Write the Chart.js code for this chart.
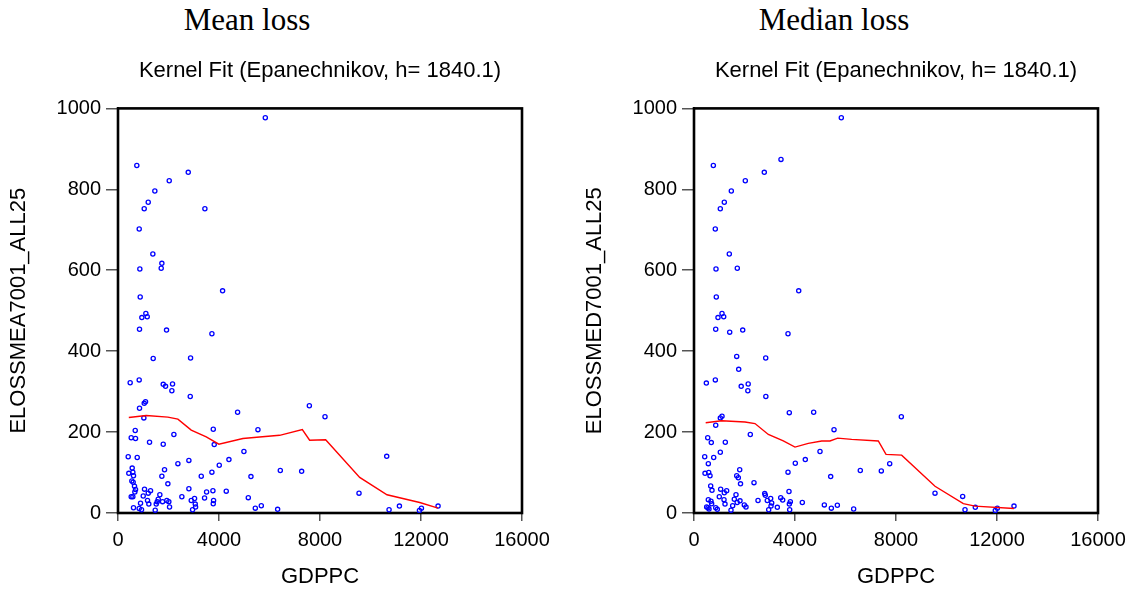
<!DOCTYPE html>
<html>
<head>
<meta charset="utf-8">
<script src="https://cdn.jsdelivr.net/npm/chart.js@4.4.0/dist/chart.umd.min.js"></script>
<style>
  html, body { margin: 0; padding: 0; background: #ffffff; }
  #wrap { position: relative; width: 1137px; height: 594px; overflow: hidden; background: #ffffff; }
  canvas { position: absolute; top: 0; }
  .ttl { position: absolute; top: 4px; width: 300px; text-align: center; font-family: "Liberation Serif", "Times New Roman", serif; font-size: 31px; line-height: 1; color: #000; white-space: nowrap; }
</style>
</head>
<body>
<div id="wrap">
  <div class="ttl" style="left:97px">Mean loss</div>
  <div class="ttl" style="left:684px">Median loss</div>
  <canvas id="c1" width="560" height="594" style="left:0px"></canvas>
  <canvas id="c2" width="560" height="594" style="left:576px"></canvas>
</div>
<script>
// ---- data ----
const xTicks = [0, 4000, 8000, 12000, 16000];
const yTicks = [0, 200, 400, 600, 800, 1000];

// Mean loss panel: scatter points
const meanGdppc = [5834,745,2782,2029,1459,1197,1038,3441,840,1380,1737,1711,865,4142,879,
  1103,944,1157,852,1922,3719,1394,2874,482,839,1791,1883,2160,2133,2861,1038,1090,852,1024,4736,7578,
  682,523,694,3773,5542,2213,1249,1791,3811,404,761,4987,4393,4010,2372,2807,562,428,588,614,1843,1737,
  1975,548,601,654,694,667,3297,3719,5265,6428,7273,2807,1050,1288,1197,999,523,588,1657,1593,1169,892,
  1221,1554,1764,1934,2013,1514,2041,614,839,931,1474,2529,2901,3032,3059,3072,2953,3428,3508,3759,3785,
  3772,4287,5160,5438,5675,6322,
  8198,10642,9545,10735,11145,11938,12017,12676];
const meanLoss = [977,859,842,821,796,768,752,752,702,640,617,605,603,549,534,
  493,483,485,454,452,443,382,383,322,329,318,313,319,302,288,271,275,259,235,249,265,
  204,186,184,207,206,194,175,170,169,139,137,152,132,118,122,130,111,98,101,92,107,91,
  72,79,76,66,58,52,91,101,90,105,103,60,59,55,49,42,40,40,45,34,31,24,
  22,28,28,31,28,22,15,13,11,8,7,40,31,36,22,15,8,37,52,55,31,
  23,54,38,12,18,9,
  238,140,49,8,17,6,12,17];
// Mean loss panel: kernel fit curve
const meanFitX = [428,1117,1975,2372,2900,3495,3995,4947,5608,6401,7300,7590,8224,9572,10654,11950,12676];
const meanFitY = [236,241,237,232,205,188,170,184,188,192,206,180,181,88,45,26,12];

// Median loss panel: scatter points
const medGdppc = [5834,766,3445,2784,2032,1478,1200,1042,843,1398,871,1715,4147,883,
  1109,950,1176,860,1929,1414,3723,1691,2840,1770,489,845,1869,2146,2132,2845,3774,4739,5545,1042,1109,
  860,543,685,1240,2230,1042,424,780,567,4990,4408,4012,2376,3723,1810,1691,1755,1842,436,582,634,5413,
  6586,7418,7750,661,713,1055,1293,1200,1002,1188,1663,1596,1228,567,673,699,501,594,554,860,923,1465,
  1531,1709,1822,1992,2059,2535,2800,2824,2903,3036,3077,3050,2958,3300,3434,3512,3762,3815,3776,3789,
  4290,5162,5439,5677,6323,
  8211,9545,10640,10733,11141,11933,12012,12673];
const medLoss = [977,859,874,842,821,796,768,752,702,640,603,605,549,534,
  493,483,485,454,452,447,443,387,383,355,321,329,313,319,302,288,248,249,206,235,239,
  217,186,174,175,194,150,139,137,122,152,132,123,75,101,107,92,87,72,98,100,92,90,
  105,104,122,67,56,59,55,50,40,33,45,34,22,33,29,23,15,10,13,13,9,7,
  18,26,30,20,15,31,48,44,31,36,25,17,8,14,38,32,53,28,22,8,
  26,20,12,19,10,
  238,49,41,8,14,6,12,17];
// Median loss panel: kernel fit curve
const medFitX = [463,1097,2020,2416,2944,3537,4000,4527,5057,5386,5691,6245,7299,7604,8224,9545,10666,11129,12673];
const medFitY = [223,228,225,221,194,178,163,172,178,178,185,182,178,145,143,66,23,17,11];

const subtitleText = 'Kernel Fit (Epanechnikov, h= 1840.1)';
const xTitle = 'GDPPC';
const yTitles = ['ELOSSMEA7001_ALL25', 'ELOSSMED7001_ALL25'];

// ---- chart construction ----
const toPts = (xs, ys) => xs.map((x, i) => ({x: x, y: ys[i]}));

const framePlugin = {
  id: 'frame',
  beforeDatasetsDraw(chart) {
    const {ctx, chartArea: {left, top, right, bottom}} = chart;
    ctx.save();
    ctx.strokeStyle = '#000';
    ctx.lineWidth = 2.6;
    ctx.strokeRect(left, top, right - left, bottom - top);
    ctx.restore();
  }
};

function makeChart(id, gx, gy, fx, fy, yTitle) {
  return new Chart(document.getElementById(id), {
    type: 'scatter',
    data: {
      datasets: [
        {
          label: 'points',
          data: toPts(gx, gy),
          showLine: false,
          pointRadius: 2.1,
          pointBorderWidth: 1.3,
          pointBorderColor: '#0000ff',
          pointBackgroundColor: 'rgba(255,255,255,0)',
          pointHoverRadius: 2.1,
          order: 2
        },
        {
          label: 'kernel fit',
          data: toPts(fx, fy),
          showLine: true,
          borderColor: '#ff0000',
          borderWidth: 1.4,
          pointRadius: 0,
          tension: 0,
          fill: false,
          order: 1
        }
      ]
    },
    options: {
      responsive: false,
      animation: false,
      devicePixelRatio: 1,
      layout: { padding: { left: 0, right: 38, top: 0, bottom: 0 } },
      plugins: {
        legend: { display: false },
        tooltip: { enabled: false },
        title: {
          display: true,
          text: subtitleText,
          fullSize: false,
          color: '#000',
          font: { family: 'Liberation Sans, Arial, sans-serif', size: 22, weight: 'normal', lineHeight: 1.2 },
          padding: { top: 58, bottom: 24 }
        }
      },
      scales: {
        x: {
          type: 'linear',
          min: 0, max: 16000,
          afterBuildTicks: (s) => { s.ticks = xTicks.map(v => ({value: v})); },
          afterFit: (s) => { s.height = 81; },
          ticks: {
            color: '#000',
            padding: 7,
            maxRotation: 0,
            callback: (v) => String(v),
            font: { family: 'Liberation Sans, Arial, sans-serif', size: 20, lineHeight: 1.2 }
          },
          grid: { drawOnChartArea: false, drawTicks: true, tickLength: 8, color: '#555', lineWidth: 1.5 },
          border: { display: true, color: '#000', width: 2 },
          title: {
            display: true, text: xTitle, color: '#000',
            font: { family: 'Liberation Sans, Arial, sans-serif', size: 22, lineHeight: 1.2 },
            padding: { top: 0, bottom: 4 }
          }
        },
        y: {
          type: 'linear',
          min: 0, max: 1000,
          afterBuildTicks: (s) => { s.ticks = yTicks.map(v => ({value: v})); },
          afterFit: (s) => { s.width = 118; },
          ticks: {
            color: '#000',
            padding: 5,
            callback: (v) => String(v),
            font: { family: 'Liberation Sans, Arial, sans-serif', size: 20, lineHeight: 1.2 }
          },
          grid: { drawOnChartArea: false, drawTicks: true, tickLength: 12, color: '#555', lineWidth: 1.5 },
          border: { display: true, color: '#000', width: 2 },
          title: {
            display: true, text: yTitle, color: '#000',
            font: { family: 'Liberation Sans, Arial, sans-serif', size: 22, lineHeight: 1.2 },
            padding: { top: 6, bottom: 0 }
          }
        }
      }
    },
    plugins: [framePlugin]
  });
}

makeChart('c1', meanGdppc, meanLoss, meanFitX, meanFitY, yTitles[0]);
makeChart('c2', medGdppc, medLoss, medFitX, medFitY, yTitles[1]);
</script>
</body>
</html>
